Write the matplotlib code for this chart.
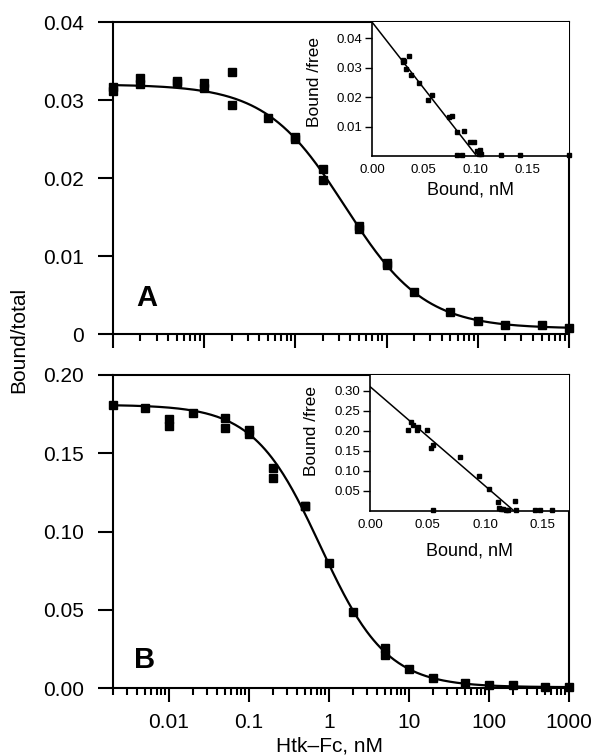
import numpy as np
import matplotlib
matplotlib.use("Agg")
import matplotlib.pyplot as plt
from matplotlib.ticker import FixedLocator, LogLocator, NullFormatter, FixedFormatter, NullLocator

plt.rcParams['font.family'] = ['Liberation Sans', 'DejaVu Sans']

# ---------------- data ----------------
# Panel A: competition curve (Htk-Fc, nM vs Bound/total)
conc_a = [0.01, 0.01, 0.02, 0.02, 0.05, 0.05, 0.1, 0.1, 0.2, 0.2, 0.5,
          1, 1, 2, 2, 5, 5, 10, 10, 20, 50, 100, 200, 500, 1000]
bt_a = [0.0317, 0.0311, 0.0328, 0.0321, 0.0325, 0.0322, 0.0322, 0.0315,
        0.0336, 0.0294, 0.0277, 0.0252, 0.0250, 0.0212, 0.0198, 0.0139,
        0.0135, 0.0091, 0.0088, 0.0054, 0.0028, 0.0017, 0.0011, 0.0012, 0.0008]
# fitted one-site curve parameters (top, bottom, IC50, Hill slope)
fit_a = dict(top=0.0320, bottom=0.0007, ic50=3.5, hill=1.0)

# Panel B
conc_b = [0.002, 0.005, 0.01, 0.01, 0.02, 0.05, 0.05, 0.1, 0.1, 0.2, 0.2,
          0.5, 0.5, 1, 2, 5, 5, 10, 20, 50, 100, 200, 500, 1000]
bt_b = [0.181, 0.179, 0.172, 0.1675, 0.176, 0.1725, 0.166, 0.165, 0.162,
        0.1405, 0.1345, 0.1165, 0.1160, 0.080, 0.0488, 0.0254, 0.0213,
        0.0119, 0.0066, 0.0030, 0.0019, 0.0020, 0.0007, 0.0004]
fit_b = dict(top=0.181, bottom=0.0005, ic50=0.78, hill=1.05)

# Scatchard insets (Bound, nM vs Bound/free)
scat_a_bound = [0.0295, 0.0303, 0.0310, 0.0360, 0.0329, 0.0377, 0.0458, 0.0539,
                0.0577, 0.0738, 0.0770, 0.0819, 0.0883, 0.0948, 0.0980, 0.1010,
                0.1045, 0.0820, 0.0870, 0.1030, 0.1050, 0.1240, 0.1425, 0.1900]
scat_a_bf = [0.0318, 0.0327, 0.0322, 0.0338, 0.0295, 0.0275, 0.0249, 0.0190,
             0.0207, 0.0131, 0.0136, 0.0081, 0.0085, 0.0049, 0.0047, 0.0018,
             0.0022, 0.0003, 0.0004, 0.0008, 0.0006, 0.0002, 0.0002, 0.0002]
scat_a_fit = dict(intercept=0.0455, bmax=0.101)

scat_b_bound = [0.0334, 0.0357, 0.0377, 0.0407, 0.0421, 0.0494, 0.0528, 0.0552,
                0.0784, 0.0944, 0.1037, 0.1112, 0.1257, 0.1120, 0.1140, 0.1160,
                0.1180, 0.1200, 0.0546, 0.1265, 0.1437, 0.1480, 0.1580]
scat_b_bf = [0.2018, 0.2225, 0.2140, 0.2018, 0.2100, 0.2018, 0.1560, 0.1640,
             0.1335, 0.0868, 0.0535, 0.0225, 0.0243, 0.0070, 0.0030, 0.0050,
             0.0010, 0.0020, 0.0005, 0.0005, 0.0005, 0.0005, 0.0005]
scat_b_fit = dict(intercept=0.31, bmax=0.125)

a_yticks = [0, 0.01, 0.02, 0.03, 0.04]
a_yticklabels = ["0", "0.01", "0.02", "0.03", "0.04"]
b_yticks = [0.0, 0.05, 0.10, 0.15, 0.20]
b_yticklabels = ["0.00", "0.05", "0.10", "0.15", "0.20"]
b_xticks = [0.01, 0.1, 1, 10, 100, 1000]
b_xticklabels = ["0.01", "0.1", "1", "10", "100", "1000"]
ins_a_yticks = [0.01, 0.02, 0.03, 0.04]
ins_a_yticklabels = ["0.01", "0.02", "0.03", "0.04"]
ins_b_yticks = [0.05, 0.10, 0.15, 0.20, 0.25, 0.30]
ins_b_yticklabels = ["0.05", "0.10", "0.15", "0.20", "0.25", "0.30"]
ins_xticks = [0.0, 0.05, 0.10, 0.15]
ins_xticklabels = ["0.00", "0.05", "0.10", "0.15"]

# ---------------- figure ----------------
W, H = 596, 756
fig = plt.figure(figsize=(W / 100, H / 100), dpi=100)


def px_axes(l, t, r, b):
    return fig.add_axes([l / W, 1 - b / H, (r - l) / W, (b - t) / H])


LW = 1.5
TICKFS = 15


def style_main(ax):
    for s in ax.spines.values():
        s.set_linewidth(LW)
    ax.tick_params(axis='y', which='major', direction='out', length=11, width=LW,
                   pad=10, labelsize=TICKFS)
    ax.tick_params(axis='x', which='major', direction='out', length=10, width=LW,
                   pad=8, labelsize=TICKFS)
    ax.tick_params(axis='x', which='minor', direction='out', length=5, width=LW)
    ax.yaxis.set_minor_locator(NullLocator())


def logistic(x, p):
    return p['bottom'] + (p['top'] - p['bottom']) / (1 + (x / p['ic50']) ** p['hill'])


# Panel A
axA = px_axes(113, 22, 569, 334)
axA.set_xscale('log')
axA.set_xlim(0.01, 1000)
axA.set_ylim(0, 0.04)
xs = np.logspace(-2, 3, 400)
axA.plot(xs, logistic(xs, fit_a), color='black', lw=1.6, zorder=2)
axA.plot(conc_a, bt_a, 's', color='black', ms=6, clip_on=False, zorder=3)
axA.xaxis.set_major_locator(LogLocator(base=10, numticks=20))
axA.xaxis.set_minor_locator(LogLocator(base=10, subs=np.arange(2, 10), numticks=20))
axA.xaxis.set_major_formatter(NullFormatter())
axA.xaxis.set_minor_formatter(NullFormatter())
axA.yaxis.set_major_locator(FixedLocator(a_yticks))
axA.yaxis.set_major_formatter(FixedFormatter(a_yticklabels))
style_main(axA)
axA.text(0.05, 0.09, "A", transform=axA.transAxes, fontsize=21,
         fontweight='bold', ha='left', va='baseline')

# Panel B
axB = px_axes(113, 375, 569, 688)
axB.set_xscale('log')
axB.set_xlim(0.002, 1000)
axB.set_ylim(0, 0.20)
xs = np.logspace(np.log10(0.002), 3, 400)
axB.plot(xs, logistic(xs, fit_b), color='black', lw=1.6, zorder=2)
axB.plot(conc_b, bt_b, 's', color='black', ms=6, clip_on=False, zorder=3)
axB.xaxis.set_major_locator(FixedLocator(b_xticks))
axB.xaxis.set_major_formatter(FixedFormatter(b_xticklabels))
axB.xaxis.set_minor_locator(LogLocator(base=10, subs=np.arange(2, 10), numticks=20))
axB.xaxis.set_minor_formatter(NullFormatter())
axB.yaxis.set_major_locator(FixedLocator(b_yticks))
axB.yaxis.set_major_formatter(FixedFormatter(b_yticklabels))
style_main(axB)
axB.text(0.045, 0.064, "B", transform=axB.transAxes, fontsize=21,
         fontweight='bold', ha='left', va='baseline')

fig.text(18.5 / W, 1 - 340 / H, "Bound/total", rotation=90, fontsize=15,
         ha='center', va='center')
fig.text(329 / W, 1 - 752 / H, "Htk\u2013Fc, nM", fontsize=15,
         ha='center', va='baseline')


def style_inset(ax):
    ax.spines['top'].set_visible(False)
    ax.spines['right'].set_visible(False)
    ax.spines['left'].set_linewidth(1.2)
    ax.spines['bottom'].set_linewidth(1.2)
    ax.tick_params(axis='y', direction='out', length=5, width=1.0, pad=2, labelsize=9.5)
    ax.tick_params(axis='x', direction='in', length=0, width=1.0, pad=6, labelsize=9.5)


# Inset A
inA = px_axes(372, 22, 569, 156)
inA.set_xlim(0, 0.19)
inA.set_ylim(0, 0.0455)
xl = np.array([0, scat_a_fit['bmax']])
inA.plot(xl, scat_a_fit['intercept'] * (1 - xl / scat_a_fit['bmax']), color='black', lw=1.1)
inA.plot(scat_a_bound, scat_a_bf, 's', color='black', ms=2.8, clip_on=False)
inA.yaxis.set_major_locator(FixedLocator(ins_a_yticks))
inA.yaxis.set_major_formatter(FixedFormatter(ins_a_yticklabels))
inA.xaxis.set_major_locator(FixedLocator(ins_xticks))
inA.xaxis.set_major_formatter(FixedFormatter(ins_xticklabels))
style_inset(inA)
inA.set_xlabel("Bound, nM", fontsize=13, labelpad=4)
inA.set_ylabel("Bound /free", fontsize=12.5)
inA.yaxis.set_label_coords(-0.254, 0.55)

# Inset B
inB = px_axes(370, 375, 569, 510.7)
inB.set_xlim(0, 0.173)
inB.set_ylim(0, 0.339)
xl = np.array([0, scat_b_fit['bmax']])
inB.plot(xl, scat_b_fit['intercept'] * (1 - xl / scat_b_fit['bmax']), color='black', lw=1.1)
inB.plot(scat_b_bound, scat_b_bf, 's', color='black', ms=2.8, clip_on=False)
inB.yaxis.set_major_locator(FixedLocator(ins_b_yticks))
inB.yaxis.set_major_formatter(FixedFormatter(ins_b_yticklabels))
inB.xaxis.set_major_locator(FixedLocator(ins_xticks))
inB.xaxis.set_major_formatter(FixedFormatter(ins_xticklabels))
style_inset(inB)
inB.set_xlabel("Bound, nM", fontsize=13, labelpad=8)
inB.set_ylabel("Bound /free", fontsize=12.5)
inB.yaxis.set_label_coords(-0.256, 0.587)

fig.savefig("out.png", dpi=100)
